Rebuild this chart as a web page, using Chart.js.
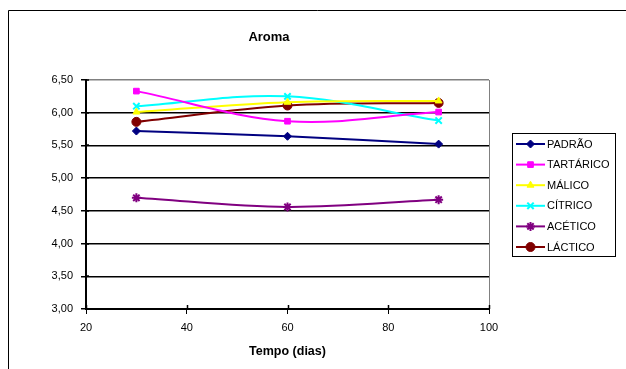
<!DOCTYPE html>
<html>
<head>
<meta charset="utf-8">
<script src="https://cdn.jsdelivr.net/npm/chart.js@4/dist/chart.umd.min.js"></script>
<style>
  html, body { margin: 0; padding: 0; background: #fff; }
  #wrap { width: 626px; height: 369px; position: relative; }
</style>
</head>
<body>
<div id="wrap"><canvas id="chart"></canvas></div>
<script>
// Data
const dias = [30, 60, 90];
const padrao = [5.72, 5.64, 5.52];
const tartarico = [6.33, 5.87, 6.01];
const malico = [6.01, 6.16, 6.18];
const citrico = [6.10, 6.25, 5.88];
const acetico = [4.70, 4.56, 4.67];
const lactico = [5.86, 6.11, 6.15];
const series_names = ['PADRÃO', 'TARTÁRICO', 'MÁLICO', 'CÍTRICO', 'ACÉTICO', 'LÁCTICO'];
const series_colors = ['#000080', '#FF00FF', '#FFFF00', '#00FFFF', '#800080', '#800000'];
const series_points = ['rectRot', 'rect', 'triangle', 'crossRot', 'star', 'circle'];
const series_values = [padrao, tartarico, malico, citrico, acetico, lactico];

const font_family = "'Liberation Sans', Arial, sans-serif";
Chart.defaults.font.family = font_family;
Chart.defaults.color = '#000';

function to_points(values) {
    return values.map((v, i) => ({ x: dias[i], y: v }));
}

const datasets = series_names.map((name, i) => {
    const cross = series_points[i] === 'crossRot' || series_points[i] === 'star';
    return {
        label: name,
        data: to_points(series_values[i]),
        borderColor: series_colors[i],
        backgroundColor: series_colors[i],
        borderWidth: 2,
        pointStyle: series_points[i],
        pointRadius: cross ? 4.5 : (series_points[i] === 'circle' ? 4.5 : 4),
        pointBorderWidth: cross ? 2 : 1,
        pointBorderColor: series_colors[i],
        pointBackgroundColor: series_colors[i],
        tension: 0.35,
    };
});

// Frame, title, inner tick marks and legend drawn on the canvas
const frame_plugin = {
    id: 'frame',
    beforeDraw(chart) {
        const ctx = chart.ctx;
        ctx.save();
        ctx.fillStyle = '#fff';
        ctx.fillRect(0, 0, chart.width, chart.height);
        ctx.strokeStyle = '#000';
        ctx.lineWidth = 1;
        ctx.beginPath();
        ctx.moveTo(8.5, chart.height);
        ctx.lineTo(8.5, 10.5);
        ctx.lineTo(chart.width, 10.5);
        ctx.stroke();
        ctx.restore();
    },
    afterDatasetsDraw(chart) {
        // tick marks crossing the axes (inner half)
        const ctx = chart.ctx;
        const xs = chart.scales.x, ys = chart.scales.y;
        ctx.save();
        ctx.strokeStyle = '#000';
        ctx.lineWidth = 1.5;
        ctx.beginPath();
        ys.ticks.forEach(t => {
            const y = Math.round(ys.getPixelForValue(t.value));
            ctx.moveTo(ys.right, y);
            ctx.lineTo(ys.right + 3, y);
        });
        xs.ticks.forEach(t => {
            const x = Math.round(xs.getPixelForValue(t.value)) + 0.5;
            ctx.moveTo(x, xs.top);
            ctx.lineTo(x, xs.top - 4);
        });
        ctx.stroke();
        ctx.restore();
    },
    afterDraw(chart) {
        const ctx = chart.ctx;
        ctx.save();
        ctx.fillStyle = '#000';
        ctx.font = 'bold 13px ' + font_family;
        ctx.textAlign = 'center';
        ctx.textBaseline = 'middle';
        ctx.fillText('Aroma', 269, 37);

        // legend box
        const lx = 512.5, ly = 133.5, lw = 103, lh = 123;
        ctx.strokeStyle = '#000';
        ctx.lineWidth = 1;
        ctx.strokeRect(lx, ly, lw, lh);
        ctx.font = '11px ' + font_family;
        ctx.textAlign = 'left';
        chart.data.datasets.forEach((ds, i) => {
            const y = 144 + i * 20.6;
            ctx.strokeStyle = ds.borderColor;
            ctx.lineWidth = 2;
            ctx.beginPath();
            ctx.moveTo(516, y);
            ctx.lineTo(545, y);
            ctx.stroke();
            if (Chart.helpers && Chart.helpers.drawPoint) {
                ctx.fillStyle = ds.pointBackgroundColor;
                ctx.strokeStyle = ds.pointBorderColor;
                ctx.lineWidth = ds.pointBorderWidth;
                Chart.helpers.drawPoint(ctx, {
                    pointStyle: ds.pointStyle,
                    radius: ds.pointRadius,
                    rotation: 0,
                    borderWidth: ds.pointBorderWidth,
                }, 530.5, y);
            }
            ctx.fillStyle = '#000';
            ctx.fillText(ds.label, 547, y + 0.5);
        });
        ctx.restore();
    }
};

const chart_canvas = document.getElementById('chart');
const chart = new Chart(chart_canvas, {
    type: 'line',
    data: { datasets: datasets },
    options: {
        animation: false,
        responsive: true,
        maintainAspectRatio: false,
        layout: { padding: { top: 80, right: 137, bottom: 6, left: 0 } },
        plugins: {
            legend: { display: false },
            title: { display: false },
            tooltip: { enabled: false },
        },
        scales: {
            x: {
                type: 'linear',
                min: 20,
                max: 100,
                ticks: { stepSize: 20, padding: 7, font: { size: 11 }, color: '#000' },
                grid: {
                    color: (c) => (c.tick && c.tick.value === 100 ? '#808080' : 'rgba(0,0,0,0)'),
                    tickColor: '#000',
                    tickLength: 5,
                    lineWidth: 1,
                },
                border: { color: '#000', width: 2 },
                title: {
                    display: true,
                    text: 'Tempo (dias)',
                    font: { size: 12.5, weight: 'bold' },
                    color: '#000',
                    padding: { top: 4, bottom: 4 },
                },
                afterFit(scale) { scale.height = 54; },
            },
            y: {
                min: 3,
                max: 6.5,
                ticks: {
                    stepSize: 0.5,
                    padding: 8,
                    font: { size: 11 },
                    color: '#000',
                    callback: (v) => v.toFixed(2).replace('.', ','),
                },
                grid: {
                    color: (c) => (c.tick && c.tick.value === 6.5 ? '#808080' : '#000'),
                    tickColor: '#000',
                    tickLength: 5,
                    lineWidth: 1.5,
                },
                border: { color: '#000', width: 2 },
                afterFit(scale) { scale.width = 86; },
            },
        },
    },
    plugins: [frame_plugin],
});
</script>
</body>
</html>
